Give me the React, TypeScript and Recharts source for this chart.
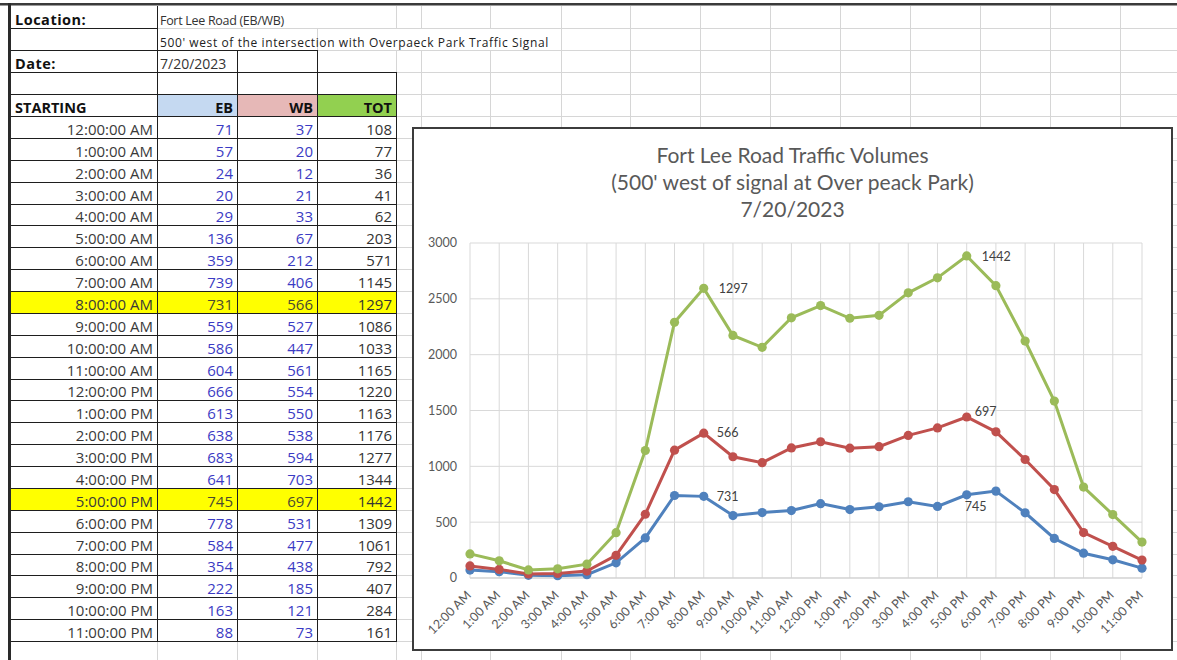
import React from "react";
import { AreaChart, Area, XAxis, YAxis, CartesianGrid, LabelList } from "recharts";

const HOURS = [
  "12:00 AM", "1:00 AM", "2:00 AM", "3:00 AM", "4:00 AM", "5:00 AM",
  "6:00 AM", "7:00 AM", "8:00 AM", "9:00 AM", "10:00 AM", "11:00 AM",
  "12:00 PM", "1:00 PM", "2:00 PM", "3:00 PM", "4:00 PM", "5:00 PM",
  "6:00 PM", "7:00 PM", "8:00 PM", "9:00 PM", "10:00 PM", "11:00 PM",
];
const EB = [71, 57, 24, 20, 29, 136, 359, 739, 731, 559, 586, 604, 666, 613, 638, 683, 641, 745, 778, 584, 354, 222, 163, 88];
const WB = [37, 20, 12, 21, 33, 67, 212, 406, 566, 527, 447, 561, 554, 550, 538, 594, 703, 697, 531, 477, 438, 185, 121, 73];
const TOT = [108, 77, 36, 41, 62, 203, 571, 1145, 1297, 1086, 1033, 1165, 1220, 1163, 1176, 1277, 1344, 1442, 1309, 1061, 792, 407, 284, 161];
const PEAK_ROWS = [8, 17]; // AM / PM peak hours (highlighted + labelled)
const Y_TICKS = [0, 500, 1000, 1500, 2000, 2500, 3000];

const TITLE = ["Fort Lee Road Traffic Volumes", "(500' west of signal at Over peack Park)", "7/20/2023"];

const BLUE = "#4F81BD";
const RED = "#C0504D";
const GREEN = "#9BBB59";

const chartData = HOURS.map((h, i) => ({ hour: h, eb: EB[i], wb: WB[i], tot: TOT[i] }));

// sheet geometry
const COLS = [10, 157, 237, 317, 396];
const SHEET_COLS = [421, 490, 561, 630, 700, 770, 840, 910, 980, 1050, 1120];
const rowY = (r: number) => (r <= 5 ? 6 + 22 * r : 116 + (r - 5) * 21.875);
const GRAY = "#d6d6d6";
const INK = "#1e1e1e";
const SHEET_FONT = "'Open Sans', sans-serif";
const CHART_FONT = "Lato, sans-serif";

const hline = (y: number, x1: number, x2: number, c: string, key: string) => (
  <div key={key} style={{ position: "absolute", left: x1, top: y, width: x2 - x1, height: 1, background: c }} />
);
const vline = (x: number, y1: number, y2: number, c: string, key: string) => (
  <div key={key} style={{ position: "absolute", left: x, top: y1, width: 1, height: y2 - y1, background: c }} />
);

function Cell({ r, c, children, align = "left", bg, color = "#333", bold, size = 14, pad = 4, spacing = 0 }: any) {
  const x1 = COLS[c], x2 = COLS[c + 1];
  const y1 = rowY(r), y2 = rowY(r + 1);
  return (
    <div style={{
      position: "absolute", left: x1 + 1, top: y1 + 1, width: x2 - x1 - 1, height: y2 - y1 - 1,
      background: bg, display: "flex", alignItems: "flex-end", justifyContent: align === "right" ? "flex-end" : "flex-start",
      boxSizing: "border-box", paddingLeft: align === "left" ? pad : 0, paddingRight: align === "right" ? pad : 0, paddingBottom: 1,
      fontFamily: SHEET_FONT, fontSize: size, fontWeight: bold ? 700 : 400, color, whiteSpace: "nowrap", overflow: "visible",
      lineHeight: 1, letterSpacing: spacing,
    }}>
      {children}
    </div>
  );
}

function HourTick({ x, y, payload }: any) {
  const tx = x + 2, ty = y + 18;
  return (
    <text x={tx} y={ty} transform={`rotate(-45 ${tx} ${ty})`} textAnchor="end"
      fontFamily={CHART_FONT} fontSize={12.5} fill="#595959">
      {payload.value}
    </text>
  );
}

const markerDot = (color: string) => (p: any) => (
  <circle key={`d${p.index}`} cx={p.cx} cy={p.cy} r={4.6} fill={color} stroke="none" />
);

// label offsets per series at the peak points
const peakLabel = (series: number[], pos: Record<number, [number, number, string]>) => (p: any) => {
  const { x, y, index } = p;
  if (!PEAK_ROWS.includes(index)) return null;
  const [dx, dy, anchor] = pos[index];
  return (
    <text key={`l${index}`} x={x + dx} y={y + dy} textAnchor={anchor as any}
      fontFamily={CHART_FONT} fontSize={12.5} fill="#404040">
      {series[index]}
    </text>
  );
};

function Sheet() {
  const lines: React.ReactNode[] = [];
  // horizontal lines
  for (let r = 1; r <= 31; r++) {
    const y = rowY(r);
    if (y > 660) break;
    let blackEnd = 10;
    if (r === 1) blackEnd = 157;
    else if (r === 2) blackEnd = 317;
    else if (r >= 3 && r <= 29) blackEnd = 396;
    if (blackEnd > 10) lines.push(hline(y, 10, blackEnd + 1, INK, `hb${r}`));
    lines.push(hline(y, blackEnd + 1, 1177, GRAY, `hg${r}`));
  }
  // vertical lines
  lines.push(vline(157, 6, 642, INK, "v157"));
  lines.push(vline(157, 642, 660, GRAY, "v157g"));
  lines.push(vline(237, 50, 642, INK, "v237"));
  lines.push(vline(237, 642, 660, GRAY, "v237g"));
  lines.push(vline(317, 28, 50, GRAY, "v317a"));
  lines.push(vline(317, 50, 642, INK, "v317"));
  lines.push(vline(317, 642, 660, GRAY, "v317g"));
  lines.push(vline(396, 6, 28, GRAY, "v396a"));
  lines.push(vline(396, 50, 72, GRAY, "v396b"));
  lines.push(vline(396, 72, 642, INK, "v396"));
  lines.push(vline(396, 642, 660, GRAY, "v396g"));
  SHEET_COLS.forEach((x) => {
    lines.push(vline(x, 6, 28, GRAY, `s${x}a`));
    if (x > 560) lines.push(vline(x, 28, 50, GRAY, `s${x}b`));
    lines.push(vline(x, 50, 660, GRAY, `s${x}c`));
  });

  const cells: React.ReactNode[] = [];
  HOURS.forEach((h, i) => {
    const r = 5 + i;
    const peak = PEAK_ROWS.includes(i);
    const bg = peak ? "#FFFF00" : undefined;
    cells.push(
      <Cell key={`a${i}`} r={r} c={0} align="right" bg={bg} color="#3a3a3a" size={15}>{h.replace(" ", ":00 ")}</Cell>,
      <Cell key={`b${i}`} r={r} c={1} align="right" bg={bg} color={peak ? "#4a4a30" : "#3b3bc4"} size={15}>{EB[i]}</Cell>,
      <Cell key={`c${i}`} r={r} c={2} align="right" bg={bg} color={peak ? "#4a4a30" : "#3b3bc4"} size={15}>{WB[i]}</Cell>,
      <Cell key={`d${i}`} r={r} c={3} align="right" bg={bg} color="#333" size={15}>{TOT[i]}</Cell>,
    );
  });

  return (
    <>
      {lines}
      <Cell r={0} c={0} bold color="#111" size={14.5} spacing={0.5}>Location:</Cell>
      <Cell r={0} c={1} color="#333" size={12.5} pad={2} spacing={-0.3}>Fort Lee Road (EB/WB)</Cell>
      <Cell r={1} c={1} color="#222" size={12} pad={2} spacing={0.6}>500' west of the intersection with Overpaeck Park Traffic Signal</Cell>
      <Cell r={2} c={0} bold color="#111" size={14.5} spacing={0.5}>Date:</Cell>
      <Cell r={2} c={1} color="#333" size={14} pad={2}>7/20/2023</Cell>
      <Cell r={4} c={0} bold color="#111" size={14.5}>STARTING</Cell>
      <Cell r={4} c={1} bold align="right" bg="#C5D9F1" color="#111" size={14.5}>EB</Cell>
      <Cell r={4} c={2} bold align="right" bg="#E6B8B7" color="#111" size={14.5}>WB</Cell>
      <Cell r={4} c={3} bold align="right" bg="#92D050" color="#111" size={14.5}>TOT</Cell>
      {cells}
      {/* window frame */}
      <div style={{ position: "absolute", left: 0, top: 3, width: 1177, height: 2, background: "#3a3a3a" }} />
      <div style={{ position: "absolute", left: 0, top: 5, width: 1177, height: 1, background: "#9a9a9a" }} />
      <div style={{ position: "absolute", left: 8, top: 3, width: 3, height: 657, background: "#2a2a2a" }} />
    </>
  );
}

export default function App() {
  return (
    <div style={{ position: "absolute", left: 0, top: 0, width: 1177, height: 660, overflow: "hidden", background: "#fff" }}>
      <Sheet />
      <div style={{
        position: "absolute", left: 412, top: 127, width: 761, height: 524, boxSizing: "border-box",
        border: "2px solid #3c3c3c", background: "#fff",
      }}>
        <div style={{
          position: "absolute", left: 0, right: 0, top: 12, textAlign: "center",
          fontFamily: CHART_FONT, fontSize: 21, lineHeight: "27px", color: "#595959",
        }}>
          {TITLE.map((t) => <div key={t}>{t}</div>)}
        </div>
        <AreaChart width={757} height={520} data={chartData}
          margin={{ top: 114, right: 29, left: 8, bottom: 11 }}>
          <CartesianGrid stroke="#d9d9d9" vertical horizontal />
          <XAxis dataKey="hour" interval={0} height={60} tickSize={0} tickMargin={0}
            axisLine={{ stroke: "#cfcfcf" }} tickLine={false} tick={<HourTick />} />
          <YAxis domain={[0, 3000]} ticks={Y_TICKS} width={48} tickSize={0} tickMargin={13}
            axisLine={false} tickLine={false} interval={0}
            tick={{ fill: "#595959", fontSize: 12.5, fontFamily: CHART_FONT }} />
          <Area type="linear" dataKey="eb" stackId="s" stroke={BLUE} strokeWidth={3} fill="none"
            dot={markerDot(BLUE)} activeDot={false} isAnimationActive={false}>
            <LabelList content={peakLabel(EB, { 8: [13, 5, "start"], 17: [9, 16, "middle"] })} />
          </Area>
          <Area type="linear" dataKey="wb" stackId="s" stroke={RED} strokeWidth={3} fill="none"
            dot={markerDot(RED)} activeDot={false} isAnimationActive={false}>
            <LabelList content={peakLabel(WB, { 8: [13, 4, "start"], 17: [8, -1, "start"] })} />
          </Area>
          <Area type="linear" dataKey="tot" stackId="s" stroke={GREEN} strokeWidth={3} fill="none"
            dot={markerDot(GREEN)} activeDot={false} isAnimationActive={false}>
            <LabelList content={peakLabel(TOT, { 8: [15, 5, "start"], 17: [15, 5, "start"] })} />
          </Area>
        </AreaChart>
      </div>
    </div>
  );
}
